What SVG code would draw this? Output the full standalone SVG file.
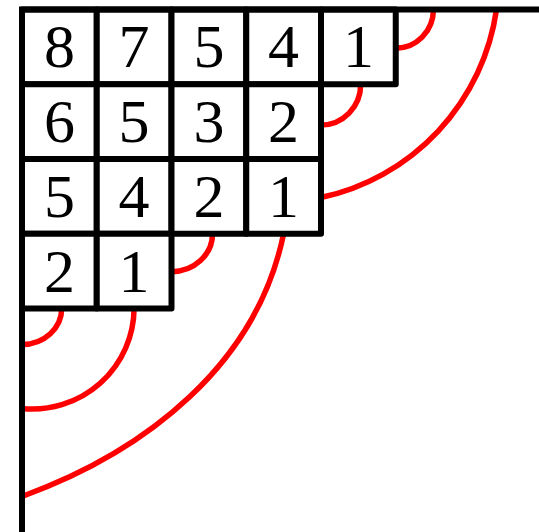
<svg xmlns="http://www.w3.org/2000/svg" width="539" height="532" viewBox="0 0 539 532">
  <style>
    .cell rect { fill: #ffffff; stroke: #000000; stroke-width: 6; stroke-linejoin: round; }
    .cell text { font-family: "Liberation Serif", "DejaVu Serif", serif; font-size: 62px; fill: #000000; text-anchor: middle; }
    .axis { fill: none; stroke: #000000; stroke-width: 6; stroke-linejoin: miter; }
    .arc { fill: none; stroke: #ff0000; stroke-width: 5.5; }
  </style>
  <rect width="539" height="532" fill="#ffffff"/>

  <g id="connectors">
    <path class="arc" d="M433.4,9.5 A37.6,38.8 0 0 1 395.75,48.3"/>
    <path class="arc" d="M360.7,84.25 A39.7,40.7 0 0 1 321,125"/>
    <path class="arc" d="M212.5,233.75 A41,38 0 0 1 171.5,271.7"/>
    <path class="arc" d="M61.7,308.5 A39.7,36 0 0 1 22,344.5"/>
    <path class="arc" d="M134.1,308.5 A101.5,101.5 0 0 1 22,408.5"/>
    <path class="arc" d="M496.5,9.5 A225,225 0 0 1 321,197.5"/>
    <path class="arc" d="M283.6,233.75 C257,363.85 147,451 22,496.5"/>
  </g>

  <g id="cells">
    <g id="c11" class="cell"><rect x="22" y="9.5" width="74.75" height="74.75"/><text x="59.4" y="67.4">8</text></g>
    <g id="c12" class="cell"><rect x="96.75" y="9.5" width="74.75" height="74.75"/><text x="134.1" y="67.4">7</text></g>
    <g id="c13" class="cell"><rect x="171.5" y="9.5" width="74.75" height="74.75"/><text x="208.9" y="67.4">5</text></g>
    <g id="c14" class="cell"><rect x="246.25" y="9.5" width="74.75" height="74.75"/><text x="283.6" y="67.4">4</text></g>
    <g id="c15" class="cell"><rect x="321" y="9.5" width="74.75" height="74.75"/><text x="358.4" y="67.4">1</text></g>

    <g id="c21" class="cell"><rect x="22" y="84.25" width="74.75" height="74.75"/><text x="59.4" y="142.1">6</text></g>
    <g id="c22" class="cell"><rect x="96.75" y="84.25" width="74.75" height="74.75"/><text x="134.1" y="142.1">5</text></g>
    <g id="c23" class="cell"><rect x="171.5" y="84.25" width="74.75" height="74.75"/><text x="208.9" y="142.1">3</text></g>
    <g id="c24" class="cell"><rect x="246.25" y="84.25" width="74.75" height="74.75"/><text x="283.6" y="142.1">2</text></g>

    <g id="c31" class="cell"><rect x="22" y="159" width="74.75" height="74.75"/><text x="59.4" y="216.9">5</text></g>
    <g id="c32" class="cell"><rect x="96.75" y="159" width="74.75" height="74.75"/><text x="134.1" y="216.9">4</text></g>
    <g id="c33" class="cell"><rect x="171.5" y="159" width="74.75" height="74.75"/><text x="208.9" y="216.9">2</text></g>
    <g id="c34" class="cell"><rect x="246.25" y="159" width="74.75" height="74.75"/><text x="283.6" y="216.9">1</text></g>

    <g id="c41" class="cell"><rect x="22" y="233.75" width="74.75" height="74.75"/><text x="59.4" y="291.6">2</text></g>
    <g id="c42" class="cell"><rect x="96.75" y="233.75" width="74.75" height="74.75"/><text x="134.1" y="291.6">1</text></g>
  </g>

  <g id="axes">
    <path class="axis" d="M22,534 V9.5 H541"/>
  </g>
</svg>
